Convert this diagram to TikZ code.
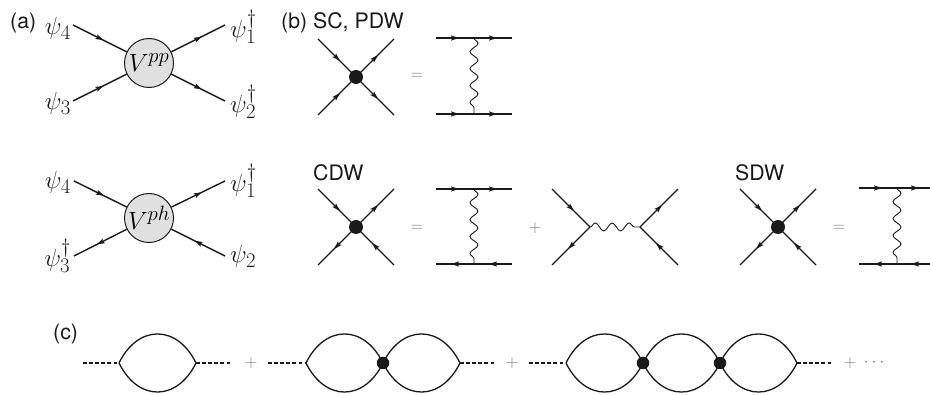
\RequirePackage{fix-cm}
\documentclass[tikz,border=0pt]{standalone}
\usepackage[no-math]{fontspec}
\setsansfont{TeX Gyre Heros}
\usetikzlibrary{decorations.markings,decorations.pathmorphing}
\definecolor{opgray}{HTML}{7A7A7A}
\definecolor{vfill}{HTML}{E0E0E0}
\definecolor{ink}{HTML}{1A1A1A}
\tikzset{
  fermion/.style={draw=ink, line width=1.4pt, postaction={decorate},
    decoration={markings, mark=at position 0.5 with {\fill[ink] (4pt,0pt) -- (-4pt,2.6pt) -- (-2.6pt,0pt) -- (-4pt,-2.6pt) -- cycle;}}},
  photon/.style={draw=ink, line width=0.9pt, decorate,
    decoration={snake, amplitude=4pt, segment length=16.9pt}},
  bubble/.style={draw=ink, line width=1.3pt},
  prop/.style={draw=ink, line width=1.2pt, dash pattern=on 3.5pt off 2.6pt},
  vertex/.style={circle, fill=ink, inner sep=0pt, minimum size=14pt},
  bvertex/.style={circle, fill=ink, inner sep=0pt, minimum size=12.5pt},
  blob/.style={circle, draw=ink, line width=1pt, fill=vfill, inner sep=0pt,
    minimum size=49pt, font=\fontsize{24.88}{28}\selectfont},
  lab/.style={inner sep=0pt, font=\fontsize{24.88}{28}\selectfont, text=ink},
  panel/.style={inner sep=0pt, anchor=west, font=\sffamily\fontsize{21.3}{25}\selectfont, text=ink},
  op/.style={inner sep=0pt, font=\fontsize{17.28}{20}\selectfont, text=opgray},
}
\begin{document}
\begin{tikzpicture}[x=1pt,y=-1pt]
\useasboundingbox (0,0) rectangle (930,395);

% ---------- (a) top ----------
\node[panel] (la) at (10,23) {(a)};
\node[blob] (Vpp) at (149,63) {$V^{pp}$};
\coordinate (a1) at (73,25);
\coordinate (a2) at (73,101);
\coordinate (a3) at (225,25);
\coordinate (a4) at (225,101);
\node[lab, anchor=east] (pa4) at (71,28) {$\psi_4$};
\node[lab, anchor=east] (pa3) at (71,103) {$\psi_3$};
\node[lab, anchor=west] (pa1) at (230,27) {$\psi_1^\dagger$};
\node[lab, anchor=west] (pa2) at (230,102) {$\psi_2^\dagger$};
\draw[fermion] (a1) -- (Vpp);
\draw[fermion] (a2) -- (Vpp);
\draw[fermion] (Vpp) -- (a3);
\draw[fermion] (Vpp) -- (a4);

% ---------- (a) bottom ----------
\node[blob] (Vph) at (149,218) {$V^{ph}$};
\coordinate (c1) at (74,181);
\coordinate (c2) at (74,256);
\coordinate (c3) at (225,181);
\coordinate (c4) at (225,256);
\node[lab, anchor=east] (pc4) at (71,182) {$\psi_4$};
\node[lab, anchor=east] (pc3) at (71,256) {$\psi_3^\dagger$};
\node[lab, anchor=west] (pc1) at (230,181) {$\psi_1^\dagger$};
\node[lab, anchor=west] (pc2) at (230,256) {$\psi_2$};
\draw[fermion] (c1) -- (Vph);
\draw[fermion] (Vph) -- (c2);
\draw[fermion] (Vph) -- (c3);
\draw[fermion] (c4) -- (Vph);

% ---------- (b) SC, PDW ----------
\node[panel] (lb) at (281,23) {(b) SC, PDW};
\node[vertex] (v1) at (356,77) {};
\coordinate (v1tl) at (318,39);
\coordinate (v1tr) at (394,39);
\coordinate (v1bl) at (318,115);
\coordinate (v1br) at (394,115);
\draw[fermion] (v1tl) -- (v1.center);
\draw[fermion] (v1.center) -- (v1tr);
\draw[fermion] (v1bl) -- (v1.center);
\draw[fermion] (v1.center) -- (v1br);
\node[op] (eq1) at (417,76) {$=$};
\coordinate (l1a) at (436,38);
\coordinate (l1m) at (474,38);
\coordinate (l1b) at (512,38);
\coordinate (l1c) at (436,114);
\coordinate (l1n) at (474,114);
\coordinate (l1d) at (512,114);
\draw[fermion] (l1a) -- (l1m);
\draw[fermion] (l1m) -- (l1b);
\draw[fermion] (l1c) -- (l1n);
\draw[fermion] (l1n) -- (l1d);
\draw[photon] (l1m) -- (l1n);

% ---------- CDW ----------
\node[panel] (lcdw) at (313,173) {CDW};
\node[vertex] (v2) at (356,227) {};
\coordinate (v2tl) at (318,189);
\coordinate (v2tr) at (394,189);
\coordinate (v2bl) at (318,265);
\coordinate (v2br) at (394,265);
\draw[fermion] (v2tl) -- (v2.center);
\draw[fermion] (v2.center) -- (v2tr);
\draw[fermion] (v2.center) -- (v2bl);
\draw[fermion] (v2br) -- (v2.center);
\node[op] (eq2) at (417,228) {$=$};
\coordinate (l2a) at (436,189);
\coordinate (l2m) at (474,189);
\coordinate (l2b) at (512,189);
\coordinate (l2c) at (436,264);
\coordinate (l2n) at (474,264);
\coordinate (l2d) at (512,264);
\draw[fermion] (l2a) -- (l2m);
\draw[fermion] (l2m) -- (l2b);
\draw[fermion] (l2d) -- (l2n);
\draw[fermion] (l2n) -- (l2c);
\draw[photon] (l2m) -- (l2n);
\node[op] (pl0) at (535,228) {$+$};
\coordinate (x1) at (590,227);
\coordinate (x2) at (640,227);
\coordinate (x1t) at (552,189);
\coordinate (x1b) at (552,265);
\coordinate (x2t) at (678,189);
\coordinate (x2b) at (678,265);
\draw[fermion] (x1t) -- (x1);
\draw[fermion] (x1) -- (x1b);
\draw[fermion] (x2) -- (x2t);
\draw[fermion] (x2b) -- (x2);
\draw[photon] (x1) -- (x2);

% ---------- SDW ----------
\node[panel] (lsdw) at (735,173) {SDW};
\node[vertex] (v3) at (778,227) {};
\coordinate (v3tl) at (740,189);
\coordinate (v3tr) at (816,189);
\coordinate (v3bl) at (740,265);
\coordinate (v3br) at (816,265);
\draw[fermion] (v3tl) -- (v3.center);
\draw[fermion] (v3.center) -- (v3tr);
\draw[fermion] (v3.center) -- (v3bl);
\draw[fermion] (v3br) -- (v3.center);
\node[op] (eq3) at (839,228) {$=$};
\coordinate (l3a) at (859,188);
\coordinate (l3m) at (897,188);
\coordinate (l3b) at (933,188);
\coordinate (l3c) at (859,264);
\coordinate (l3n) at (897,264);
\coordinate (l3d) at (933,264);
\draw[fermion] (l3a) -- (l3m);
\draw[fermion] (l3m) -- (l3b);
\draw[fermion] (l3d) -- (l3n);
\draw[fermion] (l3n) -- (l3c);
\draw[photon] (l3m) -- (l3n);

% ---------- (c) ----------
\node[panel] (lcc) at (53,334) {(c)};
\coordinate (d0) at (83,363);
\coordinate (b1l) at (119,363);
\coordinate (b1r) at (196,363);
\coordinate (d1) at (230,363);
\node[op] (pl1) at (251,363) {$+$};
\coordinate (d2) at (268,363);
\coordinate (b2l) at (306,363);
\coordinate (b2m) at (383,363);
\coordinate (b2r) at (460,363);
\coordinate (d3) at (494,363);
\node[op] (pl2) at (512,363) {$+$};
\coordinate (d4) at (529,363);
\coordinate (b3l) at (566,363);
\coordinate (b3m) at (643,363);
\coordinate (b3n) at (720,363);
\coordinate (b3r) at (797,363);
\coordinate (d5) at (832,363);
\node[op] (pl3) at (850,363) {$+$};
\node[op] (dots) at (874,363) {$\cdots$};

\draw[prop] (d0) -- (b1l);
\draw[prop] (b1r) -- (d1);
\draw[prop] (d2) -- (b2l);
\draw[prop] (b2r) -- (d3);
\draw[prop] (d4) -- (b3l);
\draw[prop] (b3r) -- (d5);

\draw[bubble] (b1l) .. controls +(19,-38.7) and +(-19,-38.7) .. (b1r) .. controls +(-19,38.7) and +(19,38.7) .. (b1l);
\draw[bubble] (b2l) .. controls +(19,-38.7) and +(-19,-38.7) .. (b2m) .. controls +(-19,38.7) and +(19,38.7) .. (b2l);
\draw[bubble] (b2m) .. controls +(19,-38.7) and +(-19,-38.7) .. (b2r) .. controls +(-19,38.7) and +(19,38.7) .. (b2m);
\draw[bubble] (b3l) .. controls +(19,-38.7) and +(-19,-38.7) .. (b3m) .. controls +(-19,38.7) and +(19,38.7) .. (b3l);
\draw[bubble] (b3m) .. controls +(19,-38.7) and +(-19,-38.7) .. (b3n) .. controls +(-19,38.7) and +(19,38.7) .. (b3m);
\draw[bubble] (b3n) .. controls +(19,-38.7) and +(-19,-38.7) .. (b3r) .. controls +(-19,38.7) and +(19,38.7) .. (b3n);
\node[bvertex] (bv1) at (b2m) {};
\node[bvertex] (bv2) at (b3m) {};
\node[bvertex] (bv3) at (b3n) {};
\end{tikzpicture}
\end{document}
